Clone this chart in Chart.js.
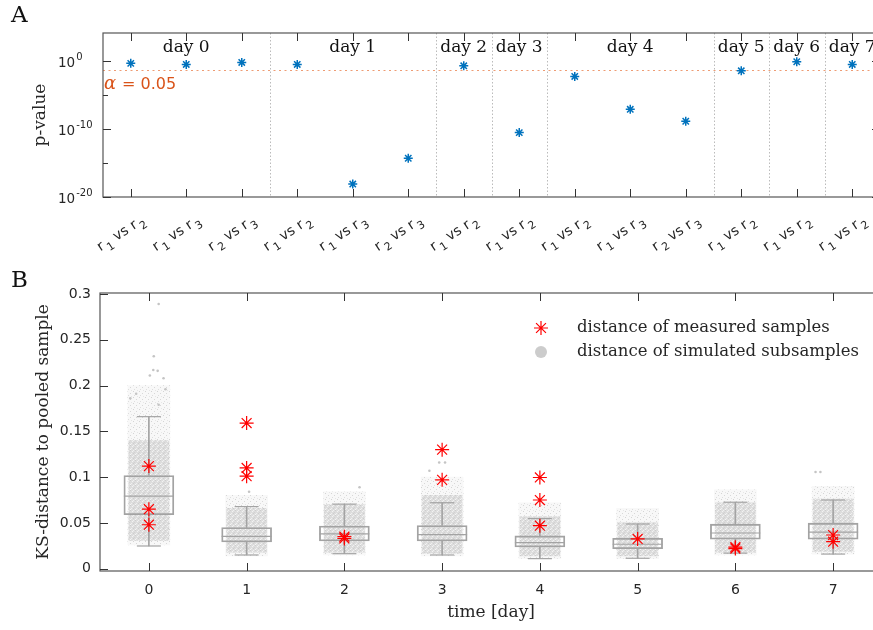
<!DOCTYPE html>
<html lang="en">
<head>
<meta charset="UTF-8">
<title>p-values and KS-distance per day</title>
<script src="https://cdn.jsdelivr.net/npm/chart.js@4.4.1/dist/chart.umd.min.js"></script>
<style>
  html, body { margin: 0; padding: 0; overflow: hidden; background: #fff; }
  body { width: 873px; height: 630px; position: relative; }
  .panel { position: absolute; left: 0; }
  #wrapA { top: 0; }
  #wrapB { top: 270px; }
</style>
</head>
<body>
<div id="wrapA" class="panel"><canvas id="chartA" width="890" height="262"></canvas></div>
<div id="wrapB" class="panel"><canvas id="chartB" width="890" height="360"></canvas></div>

<script>
// ---------- panel A: pairwise test between replicates ----------
const pairLabels = ['r₁ vs r₂', 'r₁ vs r₃', 'r₂ vs r₃',
                    'r₁ vs r₂', 'r₁ vs r₃', 'r₂ vs r₃',
                    'r₁ vs r₂', 'r₁ vs r₂',
                    'r₁ vs r₂', 'r₁ vs r₃', 'r₂ vs r₃',
                    'r₁ vs r₂', 'r₁ vs r₂', 'r₁ vs r₂'];
const pairDay = [0, 0, 0, 1, 1, 1, 2, 3, 4, 4, 4, 5, 6, 7];
const pValues = [0.46, 0.32, 0.63, 0.32, 8e-19, 5e-15, 0.2, 3e-11, 0.0055, 8e-8, 1.4e-9, 0.037, 0.8, 0.32];
const alphaLevel = 0.05;
const pTickValues = [1e-20, 1e-15, 1e-10, 1e-5, 1];
const pTickExponents = ['-20', '', '-10', '', '0'];   // '' = unlabelled minor tick

// ---------- panel B: KS distance to pooled sample ----------
const days = [0, 1, 2, 3, 4, 5, 6, 7];
const boxQ1     = [0.059, 0.0292, 0.0303, 0.0303, 0.0237, 0.0218, 0.0322, 0.0322];
const boxMedian = [0.0792, 0.0354, 0.038, 0.0372, 0.0285, 0.0267, 0.039, 0.04];
const boxQ3     = [0.1018, 0.0449, 0.0466, 0.0472, 0.0358, 0.0332, 0.0486, 0.0497];
const whiskLo   = [0.0248, 0.015, 0.0164, 0.015, 0.011, 0.0114, 0.017, 0.016];
const whiskHi   = [0.166, 0.0678, 0.0705, 0.072, 0.0547, 0.0488, 0.0726, 0.075];
// simulated subsample cloud: dense core and sparse extent
const cloudMin    = [0.026, 0.014, 0.015, 0.014, 0.011, 0.011, 0.015, 0.016];
const cloudCoreLo = [0.031, 0.018, 0.018, 0.017, 0.014, 0.014, 0.018, 0.019];
const cloudCoreHi = [0.14, 0.066, 0.07, 0.08, 0.057, 0.05, 0.072, 0.076];
const cloudMax    = [0.2, 0.08, 0.084, 0.1, 0.072, 0.066, 0.086, 0.09];
// isolated simulated points: [day, horizontal jitter, value]
const simOutliers = [
  [0, 0.10, 0.289], [0, 0.05, 0.232], [0, 0.045, 0.217], [0, 0.09, 0.216],
  [0, 0.01, 0.211], [0, 0.15, 0.208], [0, 0.17, 0.196], [0, -0.13, 0.191],
  [0, -0.19, 0.186], [0, 0.10, 0.179],
  [1, 0.025, 0.084], [2, 0.155, 0.089],
  [3, -0.03, 0.116], [3, 0.03, 0.116], [3, -0.13, 0.107],
  [7, -0.18, 0.1055], [7, -0.13, 0.1055]
];
const measured = [
  [0.112, 0.065, 0.048],
  [0.159, 0.110, 0.101],
  [0.035, 0.033],
  [0.130, 0.097],
  [0.0996, 0.075, 0.047],
  [0.0325],
  [0.0235, 0.022],
  [0.0368, 0.0295]
];
const ksTickValues = [0, 0.05, 0.1, 0.15, 0.2, 0.25, 0.3];
const ksTickLabels = ['0', '0.05', '0.1', '0.15', '0.2', '0.25', '0.3'];

const SANS = '"DejaVu Sans", sans-serif';
const SERIF = '"DejaVu Serif", serif';
const AXIS = '#555555';
const TEXT = '#262626';
const BOXC = '#A3A3A3';
const SUBS = { '₀': '0', '₁': '1', '₂': '2', '₃': '3' };

Chart.defaults.font.family = SANS;
Chart.defaults.color = TEXT;
Chart.defaults.animation = false;

// speckled fill to mimic a dense cloud of small markers
function speckle(size, base, dots) {
  const c = document.createElement('canvas');
  c.width = size; c.height = size;
  const g = c.getContext('2d');
  if (base) { g.fillStyle = base; g.fillRect(0, 0, size, size); }
  dots.forEach(d => { g.fillStyle = d[2]; g.fillRect(d[0], d[1], 1, 1); });
  return g.createPattern(c, 'repeat');
}
const coreFill = speckle(5, '#DDDDDD', [
  [0, 0, '#CDCDCD'], [2, 1, '#F3F3F3'], [3, 3, '#CDCDCD'], [1, 3, '#EFEFEF'],
  [4, 2, '#D2D2D2'], [3, 0, '#F0F0F0'], [0, 4, '#F5F5F5']
]);
const tailFill = speckle(6, '#F8F8F8', [
  [1, 1, '#D4D4D4'], [4, 3, '#D8D8D8'], [2, 5, '#DEDEDE'], [5, 0, '#E6E6E6']
]);

// MATLAB-like box around the axes with inward ticks
function drawFrame(ctx, area, x, y) {
  ctx.save();
  ctx.strokeStyle = AXIS;
  ctx.lineWidth = 1.2;
  ctx.strokeRect(area.left, area.top, area.right - area.left, area.bottom - area.top);
  ctx.strokeStyle = '#333';
  ctx.lineWidth = 1;
  ctx.beginPath();
  x.ticks.forEach((t, i) => {
    const px = Math.round(x.getPixelForTick(i)) + 0.5;
    ctx.moveTo(px, area.bottom); ctx.lineTo(px, area.bottom - 8);
    ctx.moveTo(px, area.top); ctx.lineTo(px, area.top + 8);
  });
  y.ticks.forEach((t, i) => {
    const py = Math.round(y.getPixelForTick(i)) + 0.5;
    const len = t.minor ? 5 : 8;
    ctx.moveTo(area.left, py); ctx.lineTo(area.left + len, py);
    ctx.moveTo(area.right, py); ctx.lineTo(area.right - len, py);
  });
  ctx.stroke();
  ctx.restore();
}

function drawStar(ctx, cx, cy, r) {
  const d = r * Math.SQRT1_2;
  ctx.beginPath();
  ctx.moveTo(cx - r, cy); ctx.lineTo(cx + r, cy);
  ctx.moveTo(cx, cy - r); ctx.lineTo(cx, cy + r);
  ctx.moveTo(cx - d, cy - d); ctx.lineTo(cx + d, cy + d);
  ctx.moveTo(cx - d, cy + d); ctx.lineTo(cx + d, cy - d);
  ctx.stroke();
}

// rotated "r₁ vs r₂" label with real subscripts, ending at (0,0)
function drawPairLabel(ctx, text) {
  const pieces = [];
  for (const ch of text) {
    const sub = SUBS[ch] !== undefined;
    const last = pieces[pieces.length - 1];
    if (last && last.sub === sub && !sub) last.t += ch;
    else pieces.push({ t: sub ? SUBS[ch] : ch, sub });
  }
  const fontN = '14px ' + SANS, fontS = '11px ' + SANS;
  let w = 0;
  pieces.forEach(p => {
    ctx.font = p.sub ? fontS : fontN;
    p.gap = p.sub ? 2 : 0;
    p.w = ctx.measureText(p.t).width;
    w += p.w + p.gap;
  });
  let cx = -w;
  pieces.forEach(p => {
    ctx.font = p.sub ? fontS : fontN;
    cx += p.gap;
    ctx.fillText(p.t, cx, p.sub ? 5 : 0);
    cx += p.w;
  });
}

// ---------- chart A ----------
const dayList = [...new Set(pairDay)];
const panelAPlugin = {
  id: 'panelA',
  beforeDatasetsDraw(chart) {
    const {ctx, chartArea: a, scales: {x, y}} = chart;
    ctx.save();
    // separators between days
    ctx.strokeStyle = '#BBBBBB';
    ctx.lineWidth = 1;
    ctx.setLineDash([1.5, 2]);
    ctx.beginPath();
    for (let i = 1; i < pairDay.length; i++) {
      if (pairDay[i] !== pairDay[i - 1]) {
        const px = Math.round(x.getPixelForValue(i - 0.5)) + 0.5;
        ctx.moveTo(px, a.top); ctx.lineTo(px, a.bottom);
      }
    }
    ctx.stroke();
    // significance level
    const ay = Math.round(y.getPixelForValue(alphaLevel)) + 0.5;
    ctx.strokeStyle = '#EE9C74';
    ctx.setLineDash([2, 3.5]);
    ctx.beginPath();
    ctx.moveTo(a.left, ay); ctx.lineTo(a.right, ay);
    ctx.stroke();
    ctx.restore();
  },
  afterDatasetsDraw(chart) {
    const {ctx, chartArea: a, scales: {x, y}} = chart;
    drawFrame(ctx, a, x, y);
    ctx.save();
    ctx.textBaseline = 'alphabetic';
    // day labels
    ctx.font = '17px ' + SERIF;
    ctx.fillStyle = '#111';
    ctx.textAlign = 'center';
    dayList.forEach(d => {
      const idx = pairDay.map((v, i) => v === d ? i : -1).filter(i => i >= 0);
      const mid = idx.reduce((s, v) => s + v, 0) / idx.length;
      ctx.fillText('day ' + d, x.getPixelForValue(mid), a.top + 19);
    });
    // y tick labels 10^k
    ctx.textAlign = 'left';
    ctx.fillStyle = TEXT;
    y.ticks.forEach((t, i) => {
      if (t.minor) return;
      const py = y.getPixelForTick(i);
      ctx.font = '13.5px ' + SANS;
      ctx.fillText('10', 58, py + 6);
      const w = ctx.measureText('10').width;
      ctx.font = '10px ' + SANS;
      ctx.fillText(pTickExponents[i], 58 + w + 1, py - 1);
    });
    // x tick labels, rotated
    const labels = x.getLabels();
    x.ticks.forEach((t, i) => {
      ctx.save();
      ctx.translate(x.getPixelForTick(i) + 15, a.bottom + 25);
      ctx.rotate(-33 * Math.PI / 180);
      drawPairLabel(ctx, labels[i]);
      ctx.restore();
    });
    // alpha label
    const ay = y.getPixelForValue(alphaLevel);
    ctx.fillStyle = '#D95319';
    ctx.font = 'italic 18px ' + SERIF;
    ctx.fillText('α', a.left + 1, ay + 19);
    ctx.font = '16px ' + SANS;
    ctx.fillText('= ' + alphaLevel, a.left + 19, ay + 19);
    // panel letter
    ctx.fillStyle = '#111';
    ctx.font = '23px ' + SERIF;
    ctx.fillText('A', 11, 22);
    ctx.restore();
  }
};

new Chart(document.getElementById('chartA'), {
  type: 'line',
  data: {
    labels: pairLabels,
    datasets: [{
      label: 'p-value',
      data: pValues,
      showLine: false,
      pointStyle: 'star',
      pointRadius: 4.5,
      borderWidth: 1.5,
      borderColor: '#0072BD',
      backgroundColor: '#0072BD'
    }]
  },
  options: {
    responsive: false,
    devicePixelRatio: 1,
    events: [],
    layout: { autoPadding: false, padding: { top: 33, right: 10, left: 0, bottom: 0 } },
    plugins: { legend: { display: false }, tooltip: { enabled: false } },
    scales: {
      x: {
        type: 'category',
        offset: true,
        grid: { display: false, drawTicks: false },
        border: { display: false },
        ticks: { display: false },
        afterFit: s => { s.height = 65; s.paddingLeft = 0; s.paddingRight = 0; }
      },
      y: {
        type: 'logarithmic',
        min: 1e-20,
        max: 1.35e4,
        grid: { display: false, drawTicks: false },
        border: { display: false },
        afterBuildTicks: s => {
          s.ticks = pTickValues.map((v, i) => ({ value: v, minor: pTickExponents[i] === '' }));
        },
        ticks: { display: false },
        title: {
          display: true, text: 'p-value',
          font: { size: 17, family: SERIF }, color: TEXT,
          padding: { top: 30, bottom: 0 }
        },
        afterFit: s => { s.width = 103; }
      }
    }
  },
  plugins: [panelAPlugin]
});

// ---------- chart B ----------
const boxData = (lo, hi) => days.map((d, i) => ({ x: d, y: [lo[i], hi[i]] }));
const pointData = vals => days.map((d, i) => ({ x: d, y: vals[i] }));
const measuredPts = [];
measured.forEach((vals, i) => vals.forEach(v => measuredPts.push({ x: days[i], y: v })));
const outlierPts = simOutliers.map(o => ({ x: o[0] + o[1], y: o[2] }));

const legendPlugin = {
  id: 'panelB',
  afterDatasetsDraw(chart) {
    const {ctx, chartArea: a, scales: {x, y}} = chart;
    drawFrame(ctx, a, x, y);
    ctx.save();
    // legend
    const lx = a.left + 441, ly = a.top + 35;
    ctx.strokeStyle = '#FF0000';
    ctx.lineWidth = 1.2;
    drawStar(ctx, lx, ly, 7);
    ctx.fillStyle = '#CCCCCC';
    ctx.beginPath();
    ctx.arc(lx, ly + 24, 6, 0, Math.PI * 2);
    ctx.fill();
    ctx.fillStyle = TEXT;
    ctx.font = '16.5px ' + SERIF;
    ctx.textBaseline = 'middle';
    ctx.textAlign = 'left';
    ctx.fillText('distance of measured samples', lx + 36, ly);
    ctx.fillText('distance of simulated subsamples', lx + 36, ly + 24);
    ctx.fillStyle = '#111';
    ctx.font = '23px ' + SERIF;
    ctx.textBaseline = 'alphabetic';
    ctx.fillText('B', 11, 17);
    ctx.restore();
  }
};

new Chart(document.getElementById('chartB'), {
  type: 'bar',
  data: {
    datasets: [
      { type: 'bar', label: 'cloud extent', data: boxData(cloudMin, cloudMax),
        backgroundColor: tailFill, barThickness: 42, grouped: false, order: 20 },
      { type: 'bar', label: 'cloud core', data: boxData(cloudCoreLo, cloudCoreHi),
        backgroundColor: coreFill, barThickness: 40, grouped: false, order: 19 },
      { type: 'line', label: 'isolated simulated', data: outlierPts, showLine: false,
        pointRadius: 1.3, pointBorderWidth: 0, pointBackgroundColor: '#C4C4C4', order: 18 },
      { type: 'bar', label: 'upper whisker', data: boxData(boxQ3, whiskHi),
        backgroundColor: BOXC, barThickness: 1, grouped: false, order: 10 },
      { type: 'bar', label: 'lower whisker', data: boxData(whiskLo, boxQ1),
        backgroundColor: BOXC, barThickness: 1, grouped: false, order: 10 },
      { type: 'bar', label: 'box', data: boxData(boxQ1, boxQ3),
        backgroundColor: 'rgba(0,0,0,0)', borderColor: BOXC, borderWidth: 1.2,
        borderSkipped: false, barThickness: 50, grouped: false, order: 9 },
      { type: 'line', label: 'median', data: pointData(boxMedian), showLine: false,
        pointStyle: 'line', pointRadius: 25, borderWidth: 1.2, borderColor: BOXC, order: 8 },
      { type: 'line', label: 'upper cap', data: pointData(whiskHi), showLine: false,
        pointStyle: 'line', pointRadius: 12, borderWidth: 1.2, borderColor: BOXC, order: 8 },
      { type: 'line', label: 'lower cap', data: pointData(whiskLo), showLine: false,
        pointStyle: 'line', pointRadius: 12, borderWidth: 1.2, borderColor: BOXC, order: 8 },
      { type: 'line', label: 'distance of measured samples', data: measuredPts, showLine: false,
        pointStyle: 'star', pointRadius: 7, borderWidth: 1.2, borderColor: '#FF0000',
        backgroundColor: '#FF0000', order: 0 }
    ]
  },
  options: {
    responsive: false,
    devicePixelRatio: 1,
    events: [],
    layout: { autoPadding: false, padding: { top: 23, right: 8, left: 0, bottom: 0 } },
    plugins: { legend: { display: false }, tooltip: { enabled: false } },
    scales: {
      x: {
        type: 'linear',
        offset: false,
        min: -0.5, max: 7.5,
        grid: { display: false, drawTicks: false },
        border: { display: false },
        afterBuildTicks: s => { s.ticks = days.map(v => ({ value: v })); },
        ticks: { padding: 11, font: { size: 14, family: SANS }, color: TEXT,
                 callback: v => String(v) },
        title: { display: true, text: 'time [day]',
                 font: { size: 17, family: SERIF }, color: TEXT,
                 padding: { top: 0, bottom: 7 } },
        afterFit: s => { s.height = 59; s.paddingLeft = 0; s.paddingRight = 0; }
      },
      y: {
        type: 'linear',
        min: -0.0025, max: 0.301,
        grid: { display: false, drawTicks: false },
        border: { display: false },
        afterBuildTicks: s => { s.ticks = ksTickValues.map(v => ({ value: v })); },
        ticks: { padding: 9, font: { size: 14, family: SANS }, color: TEXT,
                 callback: (v, i) => ksTickLabels[i] },
        title: { display: true, text: 'KS-distance to pooled sample',
                 font: { size: 17, family: SERIF }, color: TEXT,
                 padding: { top: 33, bottom: 0 } },
        afterFit: s => { s.width = 100; }
      }
    }
  },
  plugins: [legendPlugin]
});
</script>
</body>
</html>
